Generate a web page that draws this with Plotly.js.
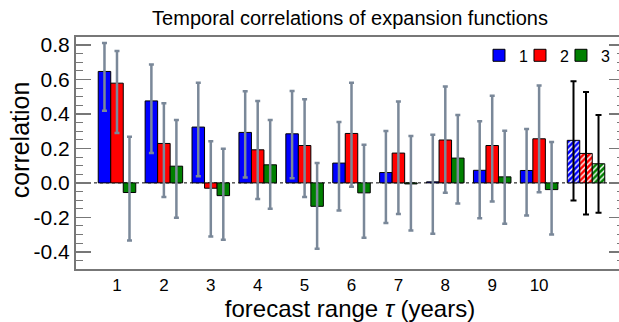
<!DOCTYPE html>
<html>
<head>
<meta charset="utf-8">
<script src="https://cdn.plot.ly/plotly-3.0.1.min.js"></script>
<style>html,body{margin:0;padding:0;overflow:hidden;background:#fff;}#chart{width:626px;height:322px;}</style>
</head>
<body>
<div id="chart"></div>
<script>
// forecast range tau (years)
const tau = [1, 2, 3, 4, 5, 6, 7, 8, 9, 10];
const tickLabels = ["1", "2", "3", "4", "5", "6", "7", "8", "9", "10"];
const allPos = [11];  // hatched (unlabelled) group

// expansion function 1 (blue)
const corr1 = [0.647, 0.476, 0.324, 0.293, 0.285, 0.115, 0.060, 0.006, 0.073, 0.072];
const hi1   = [0.812, 0.687, 0.581, 0.532, 0.534, 0.353, 0.301, 0.280, 0.358, 0.313];
const lo1   = [0.419, 0.173, 0.039, 0.031, 0.027, -0.161, -0.233, -0.295, -0.205, -0.190];
// expansion function 2 (red)
const corr2 = [0.579, 0.229, -0.031, 0.192, 0.217, 0.287, 0.173, 0.249, 0.217, 0.256];
const hi2   = [0.765, 0.462, 0.241, 0.476, 0.485, 0.581, 0.472, 0.559, 0.506, 0.565];
const lo2   = [0.289, -0.082, -0.311, -0.093, -0.082, -0.023, -0.181, -0.058, -0.108, -0.054];
// expansion function 3 (green)
const corr3 = [-0.056, 0.097, -0.074, 0.105, -0.136, -0.058, -0.006, 0.144, 0.035, -0.039];
const hi3   = [0.268, 0.365, 0.198, 0.365, 0.115, 0.221, 0.272, 0.394, 0.302, 0.237];
const lo3   = [-0.334, -0.202, -0.330, -0.150, -0.383, -0.318, -0.276, -0.120, -0.237, -0.300];
// hatched group (functions 1, 2, 3)
const corrAll = [0.247, 0.171, 0.111];
const hiAll   = [0.590, 0.528, 0.394];
const loAll   = [-0.103, -0.183, -0.173];

const yTickVals = [-0.4, -0.2, 0.0, 0.2, 0.4, 0.6, 0.8];
const yTickText = ["-0.4", "-0.2", "0.0", "0.2", "0.4", "0.6", "0.8"];

const names = ["1", "2", "3"];
const colors = ["#0000ff", "#ff0000", "#008000"];
const legendIds = ["legend", "legend2", "legend3"];
const vals = [corr1, corr2, corr3];
const his = [hi1, hi2, hi3];
const los = [lo1, lo2, lo3];

const traces = [];
for (let k = 0; k < 3; k++) {
  traces.push({
    type: "bar", x: tau, y: vals[k], name: names[k], offsetgroup: String(k),
    legend: legendIds[k],
    marker: {color: colors[k], line: {color: "#000", width: 1}},
    error_y: {type: "data", symmetric: false,
      array: vals[k].map((v, i) => his[k][i] - v),
      arrayminus: vals[k].map((v, i) => v - los[k][i]),
      color: "#7a8899", thickness: 2.5, width: 2.5}
  });
}
for (let k = 0; k < 3; k++) {
  traces.push({
    type: "bar", x: allPos, y: [corrAll[k]], name: names[k], offsetgroup: String(k),
    showlegend: false,
    marker: {color: colors[k], line: {color: "#000", width: 1},
      pattern: {shape: "/", bgcolor: colors[k], fgcolor: "#ffffff", size: 4, solidity: 0.35}},
    error_y: {type: "data", symmetric: false,
      array: [hiAll[k] - corrAll[k]], arrayminus: [corrAll[k] - loAll[k]],
      color: "#000", thickness: 2, width: 3}
  });
}

function legendAt(xp) {
  return {orientation: "h", x: xp, xanchor: "left", y: 0.994, yanchor: "top",
    font: {size: 16}, bgcolor: "rgba(0,0,0,0)", itemwidth: 30};
}

const layout = {
  width: 626, height: 322,
  margin: {l: 76, r: 2, t: 37, b: 53},
  paper_bgcolor: "#fff", plot_bgcolor: "#fff",
  font: {family: "Liberation Sans, Arial, sans-serif", color: "#000"},
  barmode: "group", bargap: 0.2, bargroupgap: 0,
  title: {text: "Temporal correlations of expansion functions", font: {size: 20, color: "#000"},
    x: 0.5, xref: "paper", y: 1 - 18 / 322, yref: "container", yanchor: "middle"},
  xaxis: {range: [0.126, 11.81], tickvals: tau, ticktext: tickLabels, ticks: "",
    showgrid: false, zeroline: false, showline: true, mirror: true,
    linecolor: "#777", linewidth: 2, tickfont: {size: 17},
    title: {text: "forecast range <i>τ</i> (years)", font: {size: 24}, standoff: 0}},
  yaxis: {range: [-0.5, 0.847], tickvals: yTickVals, ticktext: yTickText,
    ticks: "inside", ticklen: 15, tickwidth: 1.5, tickcolor: "#777",
    minor: {dtick: 0.05, tick0: 0, ticks: "inside", ticklen: 7, tickcolor: "#777", tickwidth: 1},
    showgrid: false, zeroline: false, showline: true, mirror: "ticks",
    linecolor: "#777", linewidth: 2, tickfont: {size: 21}},
  showlegend: true,
  legend: legendAt(0.7354),
  legend2: legendAt(0.8102),
  legend3: legendAt(0.885),
  annotations: [{text: "correlation", textangle: -90, xref: "paper", x: -0.102, xanchor: "center",
    yref: "paper", y: 0.555, yanchor: "middle", showarrow: false, font: {size: 25}}],
  shapes: [{type: "line", xref: "paper", x0: 0, x1: 1, yref: "y", y0: 0, y1: 0,
    line: {color: "#000", width: 1, dash: "dot"}, layer: "below"}]
};

Plotly.newPlot("chart", traces, layout, {displayModeBar: false, staticPlot: true});
</script>
</body>
</html>
